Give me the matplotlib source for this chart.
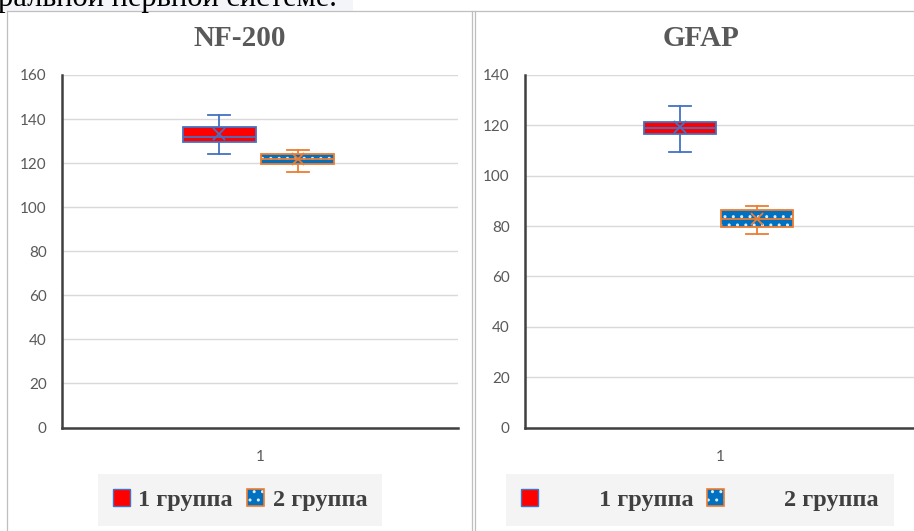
import matplotlib
matplotlib.use("Agg")
import matplotlib.pyplot as plt
from matplotlib.patches import Patch, PathPatch, Rectangle
from matplotlib.lines import Line2D
from matplotlib.legend_handler import HandlerTuple

# ---- data -------------------------------------------------------------
groups = ["1 группа", "2 группа"]
category_labels = ["1"]

nf_whislo = [124.0, 116.0]
nf_q1 = [129.7, 119.5]
nf_med = [132.0, 121.7]
nf_mean = [133.3, 122.0]
nf_q3 = [136.4, 124.0]
nf_whishi = [141.8, 126.0]

gfap_whislo = [109.4, 77.0]
gfap_q1 = [116.5, 79.5]
gfap_med = [119.0, 82.9]
gfap_mean = [119.3, 83.0]
gfap_q3 = [121.5, 86.2]
gfap_whishi = [127.5, 88.0]

# ---- style ------------------------------------------------------------
W, H = 914, 531
DPI = 100
RED = "#FF0000"
BLUE_EDGE = "#4472C4"
BLUE_FILL = "#0070C0"
ORANGE = "#ED7D31"
TXT = "#595959"
SERIF = ["Liberation Serif", "DejaVu Serif"]
SANS = ["Lato", "DejaVu Sans"]
plt.rcParams["hatch.linewidth"] = 1.0

fig = plt.figure(figsize=(W / DPI, H / DPI), dpi=DPI)


def fx(px):
    return px / W


def fy(py):
    return (H - py) / H


def rect(x0, y_top, x1, y_bot):
    return [fx(x0), fy(y_bot), fx(x1) - fx(x0), fy(y_top) - fy(y_bot)]


# document text above the charts (its upper part lies outside the page)
fig.add_artist(Rectangle((0, fy(10.5)), fx(353), 1 - fy(10.5), transform=fig.transFigure,
                         facecolor="#F4F5F9", edgecolor="none", zorder=0))
fig.text(fx(-2), fy(6), "ральной нервной системе.", family=SERIF, fontsize=22,
         color="black", va="baseline", ha="left")

# chart frames
frame_col = "#BFBFBF"
for seg in [((7.5, 7.5), (11, 531)), ((7, 914), (11, 11)),
            ((472.5, 472.5), (11, 531)), ((474.8, 474.8), (11, 531))]:
    fig.add_artist(Line2D([fx(v) for v in seg[0]], [fy(v) for v in seg[1]],
                          transform=fig.transFigure, color=frame_col, lw=0.9))

offsets = [-0.103, 0.095]
box_w = 0.185
colors_face = [RED, BLUE_FILL]
colors_edge = [BLUE_EDGE, ORANGE]


def draw_panel(ax, title, title_x, whislo, q1, med, mean, q3, whishi, ymax):
    stats = []
    for i in range(len(groups)):
        stats.append(dict(whislo=whislo[i], q1=q1[i], med=med[i], mean=mean[i],
                          q3=q3[i], whishi=whishi[i], fliers=[], label=groups[i]))
    positions = [1 + o for o in offsets]
    for i, st in enumerate(stats):
        res = ax.bxp([st], positions=[positions[i]], widths=box_w, patch_artist=True,
                     showmeans=True, showfliers=False, capwidths=0.055,
                     boxprops=dict(facecolor=colors_face[i], edgecolor=colors_edge[i], linewidth=1.3),
                     whiskerprops=dict(color=colors_edge[i], linewidth=1.3),
                     capprops=dict(color=colors_edge[i], linewidth=1.3),
                     medianprops=dict(color=colors_edge[i], linewidth=1.3),
                     meanprops=dict(marker="x", markeredgecolor=colors_edge[i],
                                    markersize=9, markeredgewidth=1.3))
        if i == 1:
            box = res["boxes"][0]
            box.set_hatch("..")
            box.set_edgecolor("#DDEBF7")
            box.set_linewidth(0)
            ax.add_patch(PathPatch(box.get_path(), facecolor="none", edgecolor=ORANGE,
                                   linewidth=1.3, zorder=box.get_zorder() + 0.1))
            for ln in res["medians"]:
                ln.set_zorder(box.get_zorder() + 0.2)
    ax.set_xlim(0.5, 1.5)
    ax.set_ylim(0, ymax)
    ax.set_yticks(range(0, ymax + 1, 20))
    ax.set_xticks([1])
    ax.set_xticklabels(category_labels)
    ax.yaxis.grid(True, color="#D9D9D9", linewidth=1.0)
    ax.set_axisbelow(True)
    for s in ["top", "right"]:
        ax.spines[s].set_visible(False)
    for s in ["left", "bottom"]:
        ax.spines[s].set_color("#404040")
        ax.spines[s].set_linewidth(1.8)
    ax.tick_params(length=0, labelsize=11, labelcolor=TXT, pad=11)
    ax.tick_params(axis="x", pad=16)
    for lab in ax.get_xticklabels() + ax.get_yticklabels():
        lab.set_family(SANS)
    fig.text(title_x, fy(46), title, family=SERIF, fontsize=21, fontweight="bold",
             color=TXT, ha="center", va="baseline")


ax1 = fig.add_axes(rect(62, 75, 458, 427.5))
draw_panel(ax1, "NF-200", fx(240), nf_whislo, nf_q1, nf_med, nf_mean, nf_q3, nf_whishi, 160)

ax2 = fig.add_axes(rect(525, 75, 915, 427.5))
draw_panel(ax2, "GFAP", fx(701), gfap_whislo, gfap_q1, gfap_med, gfap_mean, gfap_q3, gfap_whishi, 140)

# legends
h1 = Patch(facecolor=RED, edgecolor=BLUE_EDGE, linewidth=1.0)
h2 = (Patch(facecolor=BLUE_FILL, edgecolor="#DDEBF7", hatch="..", linewidth=0),
      Patch(facecolor="none", edgecolor=ORANGE, linewidth=1.2))
handles = [h1, h2]
leg_font = dict(family=SERIF, weight="bold", size=17.5)


def add_legend(cx, textpad, colspace, bpad):
    leg = fig.legend(handles, groups, loc="center", bbox_to_anchor=(fx(cx), fy(500)),
                     ncol=2, prop=leg_font, handlelength=0.7, handleheight=0.7,
                     handletextpad=textpad, columnspacing=colspace, borderpad=bpad,
                     fancybox=False, frameon=True,
                     handler_map={tuple: HandlerTuple(ndivide=1, pad=0)})
    leg.get_frame().set_facecolor("#F2F2F2")
    leg.get_frame().set_edgecolor("none")
    for t in leg.get_texts():
        t.set_color("#404040")
    return leg


add_legend(240, 0.35, 0.6, 0.6)
add_legend(700, 2.5, 0.55, 0.6)

fig.savefig("out.png", dpi=DPI)
